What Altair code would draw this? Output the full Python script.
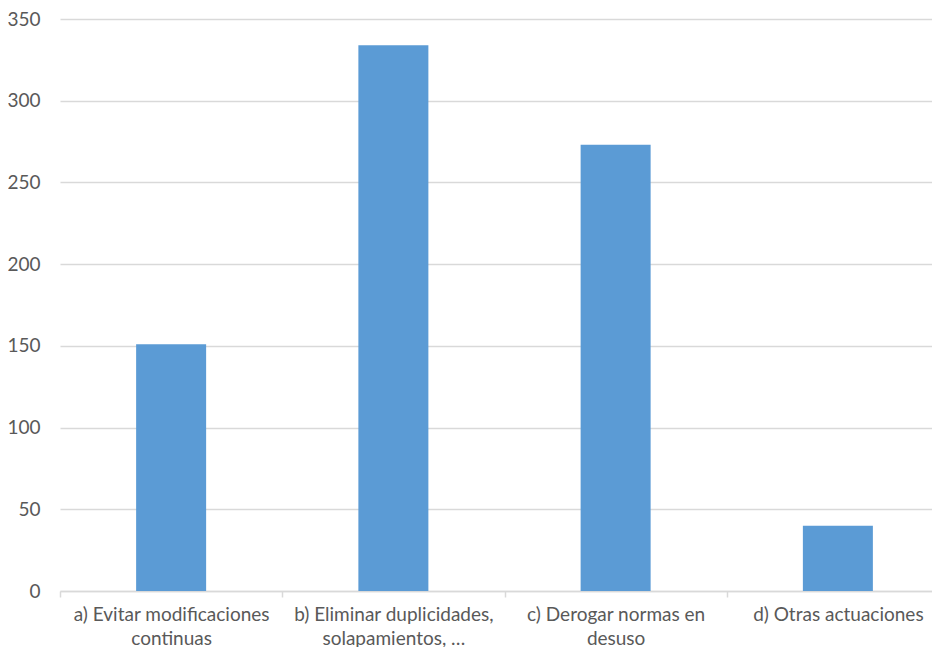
import altair as alt
import pandas as pd

categories = ["a) Evitar modificaciones\ncontinuas",
              "b) Eliminar duplicidades,\nsolapamientos, …",
              "c) Derogar normas en\ndesuso",
              "d) Otras actuaciones"]
values = [151, 334, 273, 40]
y_ticks = [0, 50, 100, 150, 200, 250, 300, 350]

df = pd.DataFrame({"cat": categories, "val": values})

FONT = "Lato"
GRAY = "#595959"
GRID = "#d9d9d9"

chart = alt.Chart(df).mark_bar(color="#5b9bd5", size=70).encode(
    x=alt.X("cat:N", sort=categories, title=None,
            scale=alt.Scale(paddingInner=0, paddingOuter=0, range=[0, 889]),
            axis=alt.Axis(labelAngle=0, labelExpr="split(datum.label, '\\n')",
                          labelFont=FONT, labelFontSize=19, labelColor=GRAY,
                          labelLineHeight=24, labelPadding=8,
                          domainColor=GRID, domainWidth=1.5,
                          tickBand="extent", tickColor=GRID, tickSize=6, tickWidth=1.5,
                          grid=False, labelLimit=300)),
    y=alt.Y("val:Q", title=None,
            scale=alt.Scale(domain=[0, 350], nice=False),
            axis=alt.Axis(values=y_ticks, labelFont=FONT, labelFontSize=19,
                          labelColor=GRAY, labelPadding=20, tickSize=0,
                          domain=False, gridColor=GRID, gridWidth=1.5)),
).properties(
    width=872, height=572,
    autosize=alt.AutoSizeParams(type="none"),
    padding={"left": 52, "top": 11, "right": 0, "bottom": 56},
).configure_view(stroke=None)

chart.save("out.html", embed_options={"renderer": "svg", "actions": False})
